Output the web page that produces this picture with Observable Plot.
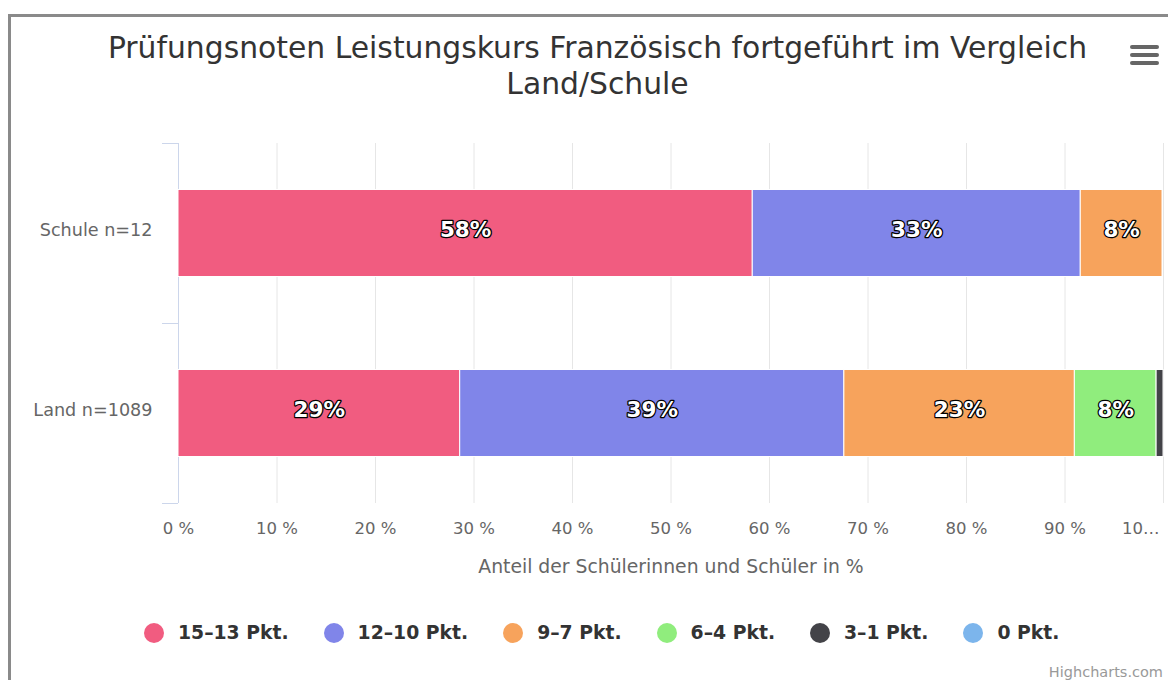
<!DOCTYPE html>
<html>
<head>
<meta charset="utf-8">
<script src="https://cdn.jsdelivr.net/npm/d3@7"></script>
<script src="https://cdn.jsdelivr.net/npm/@observablehq/plot@0.6"></script>
<style>
  html, body { margin: 0; padding: 0; background: #fff; width: 1168px; height: 680px; overflow: hidden; }
  body { position: relative; font-family: "DejaVu Sans", sans-serif; }
  #frame { position: absolute; left: 8px; top: 14px; width: 1300px; height: 800px; border-left: 3px solid #8a8a8a; border-top: 3px solid #8a8a8a; pointer-events: none; z-index: 5; }
  #chart { position: absolute; left: 0; top: 0; }
  #title { position: absolute; left: 0; top: 30px; width: 1195px; text-align: center; font-size: 29.8px; line-height: 36px; color: #333; z-index: 3; }
  #menu { position: absolute; left: 1126px; top: 40px; z-index: 3; }
  #legend { position: absolute; left: 144px; top: 622px; display: flex; gap: 35px; align-items: center; z-index: 3; }
  .item { display: flex; align-items: center; font-weight: bold; font-size: 18.8px; color: #333; }
  .dot { width: 20px; height: 20px; border-radius: 50%; margin-right: 14px; }
  #credit { position: absolute; right: 5px; top: 664px; font-size: 14.5px; color: #999; z-index: 3; }
</style>
</head>
<body>
<div id="chart"></div>
<div id="title"></div>
<svg id="menu" width="36" height="30"><g stroke="#666" stroke-width="4" stroke-linecap="round"><line x1="6" x2="31" y1="7" y2="7"/><line x1="6" x2="31" y1="15" y2="15"/><line x1="6" x2="31" y1="23" y2="23"/></g></svg>
<div id="legend"></div>
<div id="credit">Highcharts.com</div>
<div id="frame"></div>
<script>
const titleLines = ["Prüfungsnoten Leistungskurs Französisch fortgeführt im Vergleich", "Land/Schule"];
const groups = ["Schule n=12", "Land n=1089"];
const grades = ["15–13 Pkt.", "12–10 Pkt.", "9–7 Pkt.", "6–4 Pkt.", "3–1 Pkt.", "0 Pkt."];
const gradeColors = ["#f15c80", "#8085e9", "#f7a35c", "#90ed7d", "#434348", "#7cb5ec"];
const schuleValues = [58.3, 33.3, 8.3, 0, 0, 0];
const landValues = [28.6, 39.0, 23.4, 8.3, 0.7, 0];
const xTicks = [0, 10, 20, 30, 40, 50, 60, 70, 80, 90, 100];
const xTickLabels = ["0 %", "10 %", "20 %", "30 %", "40 %", "50 %", "60 %", "70 %", "80 %", "90 %", "10…"];
const xAxisTitle = "Anteil der Schülerinnen und Schüler in %";

const rows = [];
grades.forEach((g, i) => rows.push({group: groups[0], grade: g, value: schuleValues[i]}));
grades.forEach((g, i) => rows.push({group: groups[1], grade: g, value: landValues[i]}));
const barRows = rows.filter(d => d.value > 0);
const labelRows = rows.filter(d => d.value >= 3);

const W = 1168, H = 600, MT = 143, MB = 97, ML = 178, MR = 5;
const bandH = (H - MT - MB) / groups.length;
const barInset = (bandH - 87) / 2;

const chart = Plot.plot({
  width: W, height: H,
  marginTop: MT, marginBottom: MB, marginLeft: ML, marginRight: MR,
  style: {background: "transparent", fontFamily: "DejaVu Sans, sans-serif"},
  x: {domain: [0, 100], axis: null},
  y: {domain: groups, axis: null, padding: 0},
  color: {domain: grades, range: gradeColors},
  marks: [
    Plot.gridX(xTicks, {stroke: "#e6e6e6", strokeOpacity: 1}),
    Plot.ruleX([0], {stroke: "#ccd6eb"}),
    Plot.ruleY(groups, {y: d => d, x1: 0, x2: 0, insetLeft: -16, dy: -bandH / 2, stroke: "#ccd6eb"}),
    Plot.ruleY(groups.slice(-1), {y: d => d, x1: 0, x2: 0, insetLeft: -16, dy: bandH / 2, stroke: "#ccd6eb"}),
    Plot.barX(barRows, Plot.stackX({x: "value", y: "group", fill: "grade", order: grades, stroke: "white", strokeWidth: 1, insetTop: barInset, insetBottom: barInset})),
    Plot.text(labelRows, Plot.stackX({x: "value", y: "group", z: "grade", order: grades, text: d => Math.round(d.value) + "%", fill: "white", stroke: "#000", strokeWidth: 2.5, paintOrder: "stroke", fontWeight: "bold", fontSize: 21.5, dy: -3})),
    Plot.text(groups, {y: d => d, text: d => d, frameAnchor: "left", textAnchor: "end", dx: -26, dy: -3, fill: "#666", fontSize: 17.6}),
    Plot.text(xTicks.slice(0, -1), {x: d => d, text: (d, i) => xTickLabels[i], frameAnchor: "bottom", dy: 30, fill: "#666", fontSize: 16.5}),
    Plot.text(xTicks.slice(-1), {x: d => d, text: () => xTickLabels[xTickLabels.length - 1], frameAnchor: "bottom", textAnchor: "end", dx: -4, dy: 30, fill: "#666", fontSize: 16.5}),
    Plot.text([xAxisTitle], {text: d => d, frameAnchor: "bottom", dy: 69, fill: "#666", fontSize: 18.8})
  ]
});
document.getElementById("chart").appendChild(chart);

document.getElementById("title").innerHTML = titleLines.join("<br>");
const legend = document.getElementById("legend");
grades.forEach((g, i) => {
  const item = document.createElement("div");
  item.className = "item";
  const dot = document.createElement("span");
  dot.className = "dot";
  dot.style.background = gradeColors[i];
  const label = document.createElement("span");
  label.textContent = g;
  item.appendChild(dot);
  item.appendChild(label);
  legend.appendChild(item);
});
</script>
</body>
</html>
